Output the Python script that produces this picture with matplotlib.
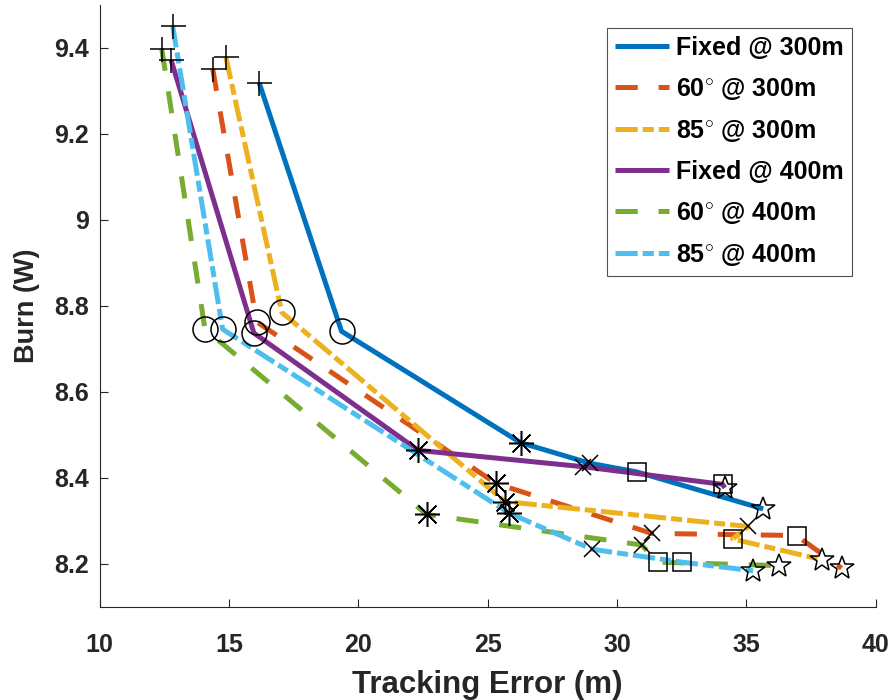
import matplotlib
matplotlib.use("Agg")
import matplotlib.pyplot as plt

plt.rcParams['font.family'] = ['Liberation Sans', 'DejaVu Sans']
plt.rcParams['font.weight'] = 'bold'
plt.rcParams['mathtext.fontset'] = 'custom'
plt.rcParams['mathtext.rm'] = 'Liberation Sans:bold'
plt.rcParams['mathtext.it'] = 'Liberation Sans:bold'
plt.rcParams['mathtext.bf'] = 'Liberation Sans:bold'
plt.rcParams['lines.scale_dashes'] = False

labels = ["Fixed @ 300m", "60$^{\\circ}$ @ 300m", "85$^{\\circ}$ @ 300m",
          "Fixed @ 400m", "60$^{\\circ}$ @ 400m", "85$^{\\circ}$ @ 400m"]
colors = ["#0072BD", "#D95319", "#EDB120", "#7E2F8E", "#77AC30", "#4DBEEE"]

# each series: 6 points, marker order +, o, *, x, square, star
fixed300_x = [16.17, 19.35, 26.27, 28.95, 30.76, 35.65]
fixed300_y = [9.318, 8.741, 8.482, 8.434, 8.414, 8.328]
d60_300_x = [14.37, 16.07, 25.32, 31.34, 36.94, 38.68]
d60_300_y = [9.351, 8.763, 8.387, 8.271, 8.266, 8.190]
d85_300_x = [14.88, 17.04, 25.67, 35.07, 34.47, 37.91]
d85_300_y = [9.378, 8.785, 8.345, 8.287, 8.258, 8.210]
fixed400_x = [12.76, 15.96, 22.32, 28.69, 34.08, 34.17]
fixed400_y = [9.372, 8.737, 8.464, 8.426, 8.385, 8.377]
d60_400_x = [12.40, 14.07, 22.64, 30.95, 31.59, 36.27]
d60_400_y = [9.398, 8.746, 8.315, 8.244, 8.204, 8.196]
d85_400_x = [12.82, 14.75, 25.83, 29.04, 32.52, 35.26]
d85_400_y = [9.452, 8.746, 8.318, 8.234, 8.204, 8.184]

xs = [fixed300_x, d60_300_x, d85_300_x, fixed400_x, d60_400_x, d85_400_x]
ys = [fixed300_y, d60_300_y, d85_300_y, fixed400_y, d60_400_y, d85_400_y]

x_ticks = [10, 15, 20, 25, 30, 35, 40]
y_ticks = [8.2, 8.4, 8.6, 8.8, 9.0, 9.2, 9.4]
y_ticklabels = ["8.2", "8.4", "8.6", "8.8", "9", "9.2", "9.4"]

dash_styles = [None, (0, (16, 15)), (0, (16, 3.6, 8, 3.6)),
               None, (0, (16, 15)), (0, (16, 3.6, 8, 3.6))]

fig = plt.figure(figsize=(8.94, 7.0), dpi=100)
ax = fig.add_axes([0.1115, 0.133, 0.868, 0.86])

lw = 3.6
for i in range(6):
    ls = '-' if dash_styles[i] is None else dash_styles[i]
    ax.plot(xs[i], ys[i], color=colors[i], lw=lw, linestyle=ls,
            label=labels[i], solid_capstyle='butt', dash_capstyle='butt')

markers = [('+', 18), ('o', 18), ((8, 2, 0), 18), ('x', 12), ('s', 13), ('*', 18)]
for i in range(6):
    for j, (m, ms) in enumerate(markers):
        ax.plot([xs[i][j]], [ys[i][j]], linestyle='none', marker=m,
                markersize=ms, markerfacecolor='none', markeredgecolor='black',
                markeredgewidth=1.1, zorder=5)

ax.set_xlim(10, 40)
ax.set_ylim(8.1, 9.5)
ax.set_xticks(x_ticks)
ax.set_yticks(y_ticks)
ax.set_yticklabels(y_ticklabels)
ax.tick_params(direction='in', length=6, width=0.8, labelsize=18,
               colors='#262626')
ax.tick_params(axis='x', pad=19)
ax.tick_params(axis='y', pad=8)
for s in ['top', 'right']:
    ax.spines[s].set_visible(False)
for s in ['left', 'bottom']:
    ax.spines[s].set_color('#262626')
    ax.spines[s].set_linewidth(0.8)

ax.set_xlabel("Tracking Error (m)", fontsize=22.5, fontweight='bold',
              color='#262626', labelpad=9)
ax.set_ylabel("Burn (W)", fontsize=19.5, fontweight='bold', color='#262626',
              labelpad=10)

leg = ax.legend(loc='upper right', bbox_to_anchor=(0.9695, 0.9613), fontsize=18,
                frameon=True, fancybox=False, edgecolor='#262626',
                handlelength=2.15, labelspacing=0.64, borderpad=0.32,
                handletextpad=0.3, borderaxespad=0)
leg.get_frame().set_linewidth(0.8)

fig.savefig("out.png", dpi=100)
